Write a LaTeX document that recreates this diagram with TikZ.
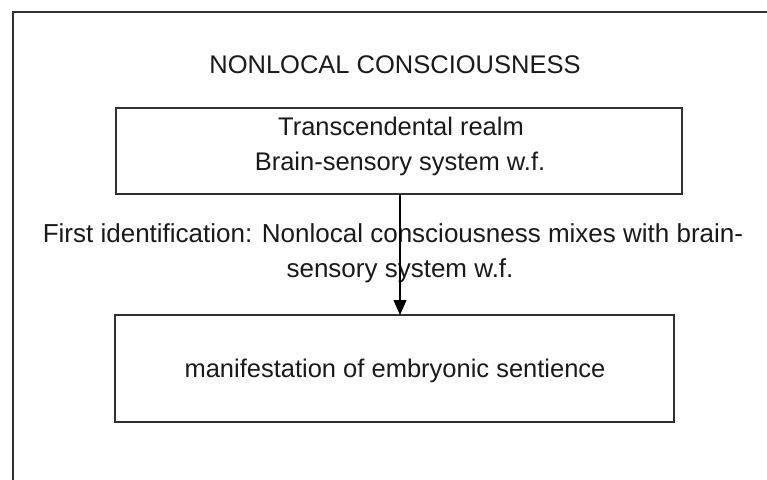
\documentclass[tikz,border=0pt]{standalone}
\usepackage{fontspec}
\setmainfont{Liberation Sans}
\usetikzlibrary{arrows.meta}
\definecolor{ln}{HTML}{303030}
\definecolor{tx}{HTML}{1A1A1A}
\begin{document}
\begin{tikzpicture}[x=1pt,y=-1pt,
  every node/.style={inner sep=0pt,outer sep=0pt,text=tx,font=\fontsize{25.5}{34}\selectfont},
  boxnode/.style={draw=ln,line width=2pt,rectangle},
  txt/.style={anchor=base},
  lbl/.style={anchor=base,font=\fontsize{26}{34}\selectfont},
  framepath/.style={draw=ln,line width=2pt},
  conn/.style={draw=black,line width=1.4pt,-{Triangle[length=15pt,width=13pt]}}]
\useasboundingbox (0,0) rectangle (767,479);
\fill[white] (0,0) rectangle (767,479);
% outer frame (only left and top visible)
\coordinate (fbl) at (13,485);
\coordinate (ftr) at (775,12);
\draw[framepath] (fbl) |- (ftr);
% title
\node[txt] (title) at (395,73) {NONLOCAL CONSCIOUSNESS};
% top box
\node[boxnode,minimum width=566pt,minimum height=86pt] (top) at (399,151) {};
\node[txt] (t1) at (401,135.5) {Transcendental realm};
\node[txt] (t2) at (400,170) {Brain-sensory system w.f.};
% bottom box
\node[boxnode,minimum width=559pt,minimum height=107pt] (bot) at (394.5,368.5) {};
\node[txt] (b1) at (395,377) {manifestation of embryonic sentience};
% label
\node[lbl] (l1) at (393,242) {First identification: Nonlocal consciousness mixes with brain-};
\node[lbl] (l2) at (400,277) {sensory system w.f.};
% connector
\draw[conn] (top.south -| 400,0) -- (bot.north -| 400,0);
\end{tikzpicture}
\end{document}
